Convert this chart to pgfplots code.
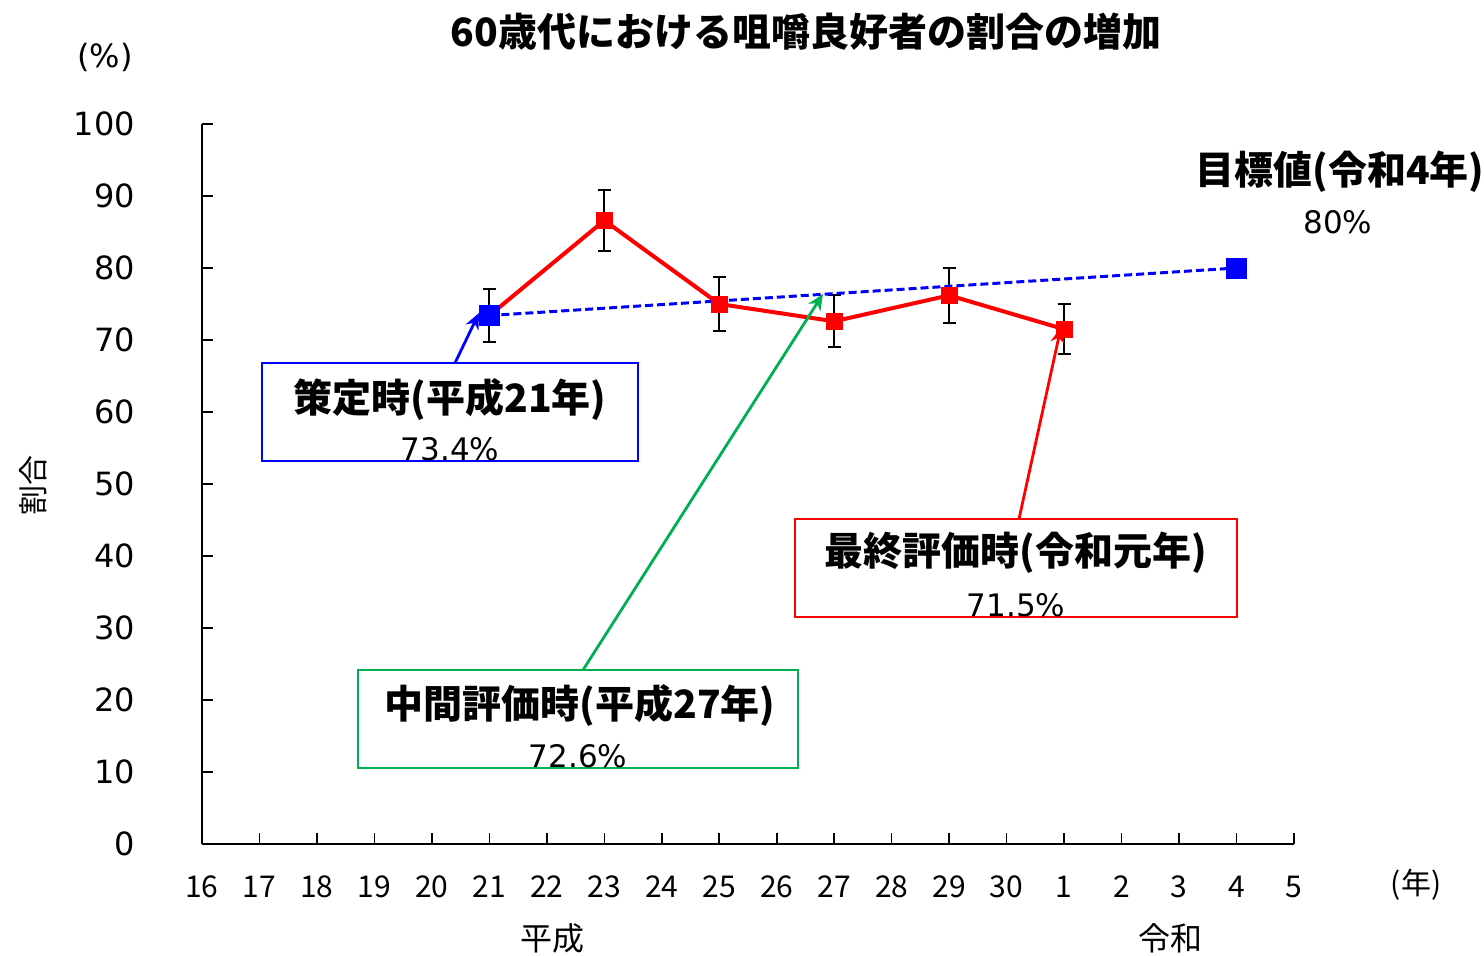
\documentclass[border=0pt]{standalone}
\usepackage{fontspec}
\setmainfont{DejaVu Sans}
\newfontfamily\jp{Noto Sans CJK JP}
\usepackage{pgfplots}
\pgfplotsset{compat=1.18}
\usetikzlibrary{arrows.meta}
\definecolor{exgreen}{RGB}{0,176,80}
\begin{document}
\begin{tikzpicture}
\path[use as bounding box] (0,0) rectangle (742pt,-477.5pt);
\begin{axis}[
  at={(101pt,-422pt)}, anchor=south west,
  scale only axis, width=546pt, height=360pt,
  xmin=0, xmax=19, ymin=0, ymax=100,
  enlargelimits=false, clip=false,
  axis lines=left,
  axis line style={-, line width=1.1pt, black},
  tick align=inside,
  major tick length=5.5pt,
  tick style={black, line width=0.8pt},
  xtick={0,1,...,19},
  xticklabels={16,17,18,19,20,21,22,23,24,25,26,27,28,29,30,1,2,3,4,5},
  ytick={0,10,...,100},
  /pgf/number format/assume math mode=true,
  yticklabel style={font=\fontsize{16}{16}\selectfont, anchor=east, xshift=-30pt},
  xticklabel style={font=\jp\fontsize{15}{15}\selectfont, anchor=base, yshift=-26.5pt},
]
\addplot[red, line width=2pt, mark=square*, mark size=4pt,
  mark options={solid, fill=red, draw=red, line width=0.4pt},
  error bars/.cd, y dir=both, y explicit,
  error bar style={black, line width=1pt},
  error mark options={rotate=90, black, mark size=3.25pt, line width=1pt}]
  table[x=x, y=y, y error=e] {
x y e
5 73.4 3.7
7 86.6 4.3
9 75.0 3.75
11 72.6 3.6
13 76.2 3.8
15 71.5 3.5
};
\addplot[blue, line width=1.5pt, dash pattern=on 4pt off 2pt, mark=square*, mark size=4.5pt,
  mark options={solid, fill=blue, draw=blue}]
  coordinates {(5,73.4) (18,80)};
\end{axis}
\begin{scope}[x=0.5pt, y=-0.5pt]
% title
\node at (806,32) {\jp\bfseries\fontsize{19.5}{19.5}\selectfont 60歳代における咀嚼良好者の割合の増加};
% axis annotations
\node at (105,57) {\fontsize{16}{16}\selectfont (\%)};
\node[rotate=90] at (33,485) {\jp\fontsize{15}{15}\selectfont 割合};
\node at (1416,885) {\jp\fontsize{15}{15}\selectfont (年)};
\node at (552,938) {\jp\fontsize{16}{16}\selectfont 平成};
\node at (1170,938) {\jp\fontsize{16}{16}\selectfont 令和};
% target label
\node at (1340,172) {\jp\bfseries\fontsize{19.5}{19.5}\selectfont 目標値(令和4年)};
\node at (1338,222) {\fontsize{15.5}{15.5}\selectfont 80\%};
% blue box
\draw[blue, line width=1.3pt, fill=white] (262,363) rectangle (638,461);
\node at (450,399) {\jp\bfseries\fontsize{19.5}{19.5}\selectfont 策定時(平成21年)};
\node[anchor=base] at (450,460) {\fontsize{15.5}{15.5}\selectfont 73.4\%};
\draw[blue, line width=1.4pt, -{Stealth[length=8pt,width=7pt]}] (455,363) -- (479,313);
% red box
\draw[red, line width=1.3pt, fill=white] (795,519) rectangle (1237,617);
\node at (1016,553) {\jp\bfseries\fontsize{19.5}{19.5}\selectfont 最終評価時(令和元年)};
\node[anchor=base] at (1016,616) {\fontsize{15.5}{15.5}\selectfont 71.5\%};
\draw[red, line width=1.4pt, -{Stealth[length=8pt,width=7pt]}] (1019,519) -- (1061,327);
% green box
\draw[exgreen, line width=1.3pt, fill=white] (358,670) rectangle (798,768);
\node at (580,705) {\jp\bfseries\fontsize{19.5}{19.5}\selectfont 中間評価時(平成27年)};
\node[anchor=base] at (578,767) {\fontsize{15.5}{15.5}\selectfont 72.6\%};
\draw[exgreen, line width=1.4pt, -{Stealth[length=8pt,width=7pt]}] (583,670) -- (823,294);
\end{scope}
\end{tikzpicture}
\end{document}
